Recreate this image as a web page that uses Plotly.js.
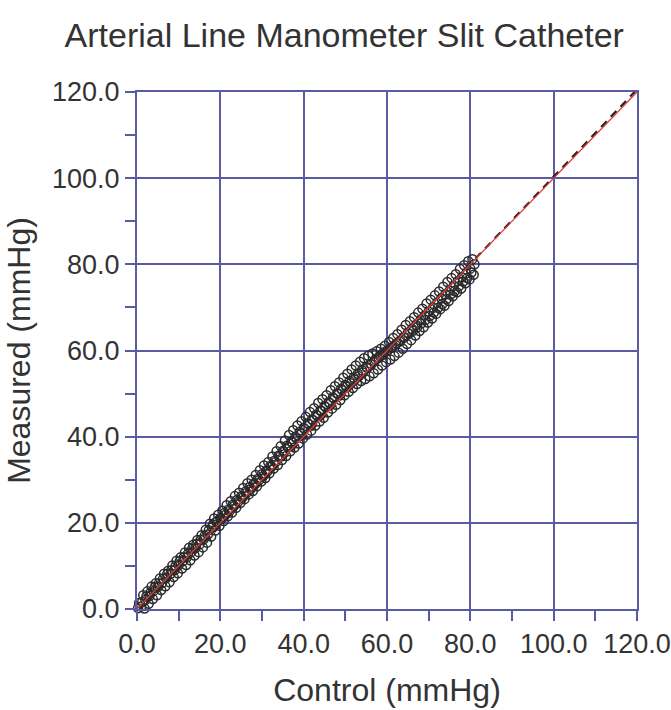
<!DOCTYPE html>
<html>
<head>
<meta charset="utf-8">
<script src="https://cdn.plot.ly/plotly-3.0.1.min.js"></script>
<style>html,body{margin:0;padding:0;background:#fff;}#chart{width:671px;height:710px;}</style>
</head>
<body>
<div id="chart"></div>
<script>
// Upper strand of the pressure trace
const controlA = [0.5,1.5,2.5,3.5,4.5,5.5,6.5,7.5,8.5,9.5,10.5,11.5,12.5,13.5,14.5,15.5,16.5,17.5,18.5,19.5,20.5,21.5,22.5,23.5,24.5,25.5,26.5,27.5,28.5,29.5,30.5,31.5,32.5,33.5,34.5,35.5,36.5,37.5,38.5,39.5,40.5,41.5,42.5,43.5,44.5,45.5,46.5,47.5,48.5,49.5,50.5,51.5,52.5,53.5,54.5,55.5,56.5,57.5,58.5,59.5,60.5,61.5,62.5,63.5,64.5,65.5,66.5,67.5,68.5,69.5,70.5,71.5,72.5,73.5,74.5,75.5,76.5,77.5,78.5,79.5,80.5];
const measuredA = [1.4,3.2,4.1,5.2,6.0,7.1,8.2,8.9,10.1,11.2,12.0,13.1,14.2,14.9,16.0,17.1,18.4,19.8,21.0,21.9,22.8,24.1,25.0,26.2,27.0,28.1,29.2,30.0,31.1,32.2,33.3,34.1,35.4,36.6,37.8,39.1,40.4,41.5,42.6,43.6,44.6,45.7,46.6,47.8,48.7,49.6,50.8,51.7,52.6,53.7,54.6,55.6,56.5,57.4,58.2,58.8,59.3,59.8,60.4,61.1,62.0,62.9,63.8,64.8,65.9,66.8,67.7,68.8,69.7,70.9,71.8,72.8,73.7,74.8,75.9,76.8,77.7,78.9,79.8,80.7,81.2];
// Lower strand
const controlB = [0.8,1.8,2.8,3.8,4.8,5.8,6.8,7.8,8.8,9.8,10.8,11.8,12.8,13.8,14.8,15.8,16.8,17.8,18.8,19.8,20.8,21.8,22.8,23.8,24.8,25.8,26.8,27.8,28.8,29.8,30.8,31.8,32.8,33.8,34.8,35.8,36.8,37.8,38.8,39.8,40.8,41.8,42.8,43.8,44.8,45.8,46.8,47.8,48.8,49.8,50.8,51.8,52.8,53.8,54.8,55.8,56.8,57.8,58.8,59.8,60.8,61.8,62.8,63.8,64.8,65.8,66.8,67.8,68.8,69.8,70.8,71.8,72.8,73.8,74.8,75.8,76.8,77.8,78.8,79.8,80.8];
const measuredB = [-0.4,0.1,1.2,2.3,3.2,4.4,5.3,6.2,7.4,8.3,9.4,10.2,11.3,12.4,13.2,14.3,15.4,16.8,18.2,19.3,20.4,21.5,22.4,23.5,24.6,25.5,26.6,27.4,28.5,29.6,30.4,31.5,32.6,33.4,34.6,35.5,36.6,37.5,38.4,39.6,40.5,41.4,42.6,43.5,44.4,45.6,46.5,47.4,48.5,49.6,50.4,51.3,52.2,52.9,53.4,54.0,54.7,55.6,56.5,57.3,57.9,58.7,59.5,60.4,61.5,62.4,63.5,64.5,65.4,66.5,67.4,68.5,69.6,70.4,71.5,72.6,73.5,74.4,75.6,76.5,77.6];
// Middle strand
const controlC = [1.0,2.0,3.0,4.0,5.0,6.0,7.0,8.0,9.0,10.0,11.0,12.0,13.0,14.0,15.0,16.0,17.0,18.0,19.0,20.0,21.0,22.0,23.0,24.0,25.0,26.0,27.0,28.0,29.0,30.0,31.0,32.0,33.0,34.0,35.0,36.0,37.0,38.0,39.0,40.0,41.0,42.0,43.0,44.0,45.0,46.0,47.0,48.0,49.0,50.0,51.0,52.0,53.0,54.0,55.0,56.0,57.0,58.0,59.0,60.0,61.0,62.0,63.0,64.0,65.0,66.0,67.0,68.0,69.0,70.0,71.0,72.0,73.0,74.0,75.0,76.0,77.0,78.0,79.0,80.0,81.0];
const measuredC = [0.6,2.1,3.0,4.2,5.1,6.0,7.2,8.1,9.0,10.2,11.1,12.0,13.2,14.1,15.0,16.2,17.3,18.9,20.2,21.1,22.3,23.1,24.2,25.3,26.1,27.2,28.3,29.1,30.2,31.3,32.1,33.2,34.4,35.6,36.7,37.9,38.8,40.0,41.1,42.0,43.1,44.0,45.1,46.0,47.1,48.0,49.1,50.0,51.1,52.0,52.9,53.7,54.6,55.4,56.2,56.9,57.5,58.3,59.0,59.9,60.6,61.3,62.1,63.0,64.1,65.0,65.9,67.0,68.1,69.0,69.9,71.0,72.1,73.0,73.9,75.0,76.1,77.0,77.9,79.0,80.0];
// Second middle strand
const controlD = [0.25,1.25,2.25,3.25,4.25,5.25,6.25,7.25,8.25,9.25,10.25,11.25,12.25,13.25,14.25,15.25,16.25,17.25,18.25,19.25,20.25,21.25,22.25,23.25,24.25,25.25,26.25,27.25,28.25,29.25,30.25,31.25,32.25,33.25,34.25,35.25,36.25,37.25,38.25,39.25,40.25,41.25,42.25,43.25,44.25,45.25,46.25,47.25,48.25,49.25,50.25,51.25,52.25,53.25,54.25,55.25,56.25,57.25,58.25,59.25,60.25,61.25,62.25,63.25,64.25,65.25,66.25,67.25,68.25,69.25,70.25,71.25,72.25,73.25,74.25,75.25,76.25,77.25,78.25,79.25,80.25];
const measuredD = [0.2,1.6,2.9,3.8,5.0,5.9,7.0,8.1,9.0,10.0,11.1,12.0,12.9,14.0,15.1,16.0,17.0,18.3,19.6,20.4,20.9,21.9,22.8,23.9,24.9,25.8,26.9,27.8,28.9,29.9,30.8,31.9,33.0,34.1,35.4,36.5,37.6,38.7,39.6,40.7,41.8,42.9,43.8,44.9,46.0,46.9,47.8,48.9,50.0,50.8,51.6,52.4,53.2,54.0,54.9,55.9,56.8,57.9,58.8,59.6,60.1,60.8,61.6,62.3,63.1,63.9,64.6,65.4,66.3,67.1,68.0,68.8,69.9,70.8,71.9,73.0,73.8,74.9,76.0,76.8,78.1];
// Reference lines
const lineX = [0, 120];
const identityY = [0, 120];
const fitY = [-0.9, 120.6];
const xTitle = "Control (mmHg)";
const yTitle = "Measured (mmHg)";
const chartTitle = "Arterial Line Manometer Slit Catheter";

const control = controlA.concat(controlB, controlC, controlD);
const measured = measuredA.concat(measuredB, measuredC, measuredD);

const gridColor = '#5a5aa6';
const textColor = '#333333';
const font = '"Liberation Sans", Arial, sans-serif';

const traces = [
  {x: lineX, y: fitY, mode: 'lines', line: {color: '#222', width: 2.2, dash: '8px,6px'}, hoverinfo: 'skip', cliponaxis: false},
  {x: control, y: measured, mode: 'markers', cliponaxis: false,
   marker: {symbol: 'circle-open', size: 9, color: '#2b2b2b', line: {width: 1.5, color: '#2b2b2b'}}},
  {x: lineX, y: identityY, mode: 'lines', line: {color: '#e03a3a', width: 1.3}, hoverinfo: 'skip', cliponaxis: false}
];

const axisCommon = {
  range: [0, 120], dtick: 20, tick0: 0, tickformat: '.1f',
  showgrid: true, gridcolor: gridColor, gridwidth: 2,
  showline: true, linecolor: gridColor, linewidth: 2, mirror: true,
  zeroline: false,
  ticks: 'outside', ticklen: 10, tickwidth: 2, tickcolor: gridColor,
  minor: {dtick: 10, ticks: 'outside', ticklen: 10, tickwidth: 2, tickcolor: gridColor, showgrid: false},
  tickfont: {family: font, size: 27, color: textColor},
  automargin: false, fixedrange: true
};

const layout = {
  width: 671, height: 710,
  margin: {l: 137, r: 34, t: 92, b: 101},
  paper_bgcolor: '#fff', plot_bgcolor: '#fff',
  showlegend: false,
  title: {text: chartTitle, font: {family: font, size: 34, color: textColor}, x: 0.513, xref: 'container', xanchor: 'center', y: 0.951, yref: 'container', yanchor: 'middle'},
  xaxis: Object.assign({}, axisCommon, {title: {text: xTitle, font: {family: font, size: 32, color: textColor}, standoff: 20}}),
  yaxis: Object.assign({}, axisCommon, {title: {text: yTitle, font: {family: font, size: 32, color: textColor}, standoff: 12}})
};

Plotly.newPlot('chart', traces, layout, {displayModeBar: false, staticPlot: true});
</script>
</body>
</html>
